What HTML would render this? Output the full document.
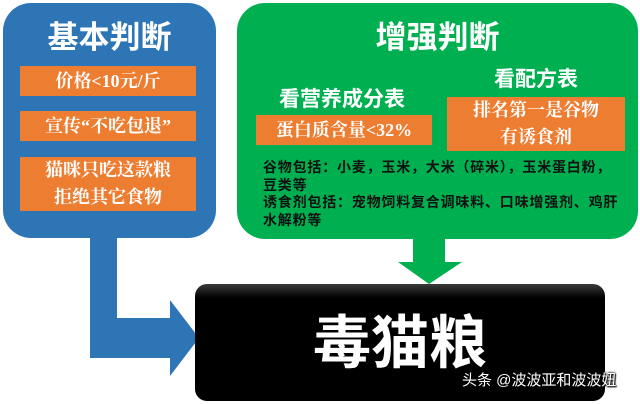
<!DOCTYPE html>
<html><head><meta charset="utf-8"><style>
body{margin:0;width:640px;height:404px;background:#fff;position:relative;overflow:hidden;font-family:"Liberation Sans","Noto Sans CJK SC",sans-serif;}
div{position:absolute;box-sizing:border-box;}
.o{background:#ed7d31;color:#fff;font-weight:bold;text-align:center;font-family:"Liberation Serif","Noto Serif CJK SC",serif;}
.t{color:#fff;font-weight:bold;text-align:center;}
</style></head><body>
<svg width="640" height="404" style="position:absolute;left:0;top:0">
<path d="M90 230 H117 V318 H170 V300 L199 338 L170 376 V358 H90 Z" fill="#2e75b6"/>
<path d="M413 236 H445 V262 H462 L429 284 L398 262 H413 Z" fill="#00b050"/>
</svg>
<div style="left:3px;top:3px;width:213px;height:235px;background:#2e75b6;border-radius:28px"></div>
<div style="left:237px;top:3px;width:401px;height:236px;background:#00b050;border-radius:28px"></div>
<div class="t" style="left:3px;top:16px;width:213px;font-size:31px;line-height:44px">基本判断</div>
<div class="o" style="left:20px;top:66px;width:176px;height:30px;font-size:18px;line-height:30px">价格&lt;10元/斤</div>
<div class="o" style="left:20px;top:111px;width:176px;height:30px;font-size:18px;line-height:30px">宣传“不吃包退”</div>
<div class="o" style="left:20px;top:157px;width:176px;height:54px;font-size:18px;line-height:27px">猫咪只吃这款粮<br>拒绝其它食物</div>
<div class="t" style="left:237px;top:16px;width:401px;font-size:31px;line-height:44px">增强判断</div>
<div class="t" style="left:252px;top:86px;width:180px;font-size:21px;line-height:28px">看营养成分表</div>
<div class="o" style="left:256px;top:115px;width:176px;height:30px;font-size:18px;line-height:30px">蛋白质含量&lt;32%</div>
<div class="t" style="left:447px;top:66px;width:178px;font-size:21px;line-height:28px">看配方表</div>
<div class="o" style="left:447px;top:97px;width:178px;height:54px;font-size:18px;line-height:27px">排名第一是谷物<br>有诱食剂</div>
<div style="left:263px;top:159px;font-size:14px;line-height:17.5px;font-weight:bold;color:#111;white-space:nowrap;letter-spacing:0.8px">谷物包括：小麦，玉米，大米（碎米），玉米蛋白粉，<br>豆类等<br>诱食剂包括：宠物饲料复合调味料、口味增强剂、鸡肝<br>水解粉等</div>
<div style="left:195px;top:284px;width:410px;height:117px;border-radius:12px;background:linear-gradient(#3a3a3a,#000 12%,#000)"></div>
<div class="t" style="left:195px;top:308px;width:410px;font-size:58px;line-height:72px">毒猫粮</div>
<div style="left:462px;top:371px;color:#fff;font-size:15px;line-height:20px;white-space:nowrap;text-shadow:0 0 2px #000,0 0 2px #000,1px 1px 1px #000">头条 @波波亚和波波妞</div>
</body></html>
